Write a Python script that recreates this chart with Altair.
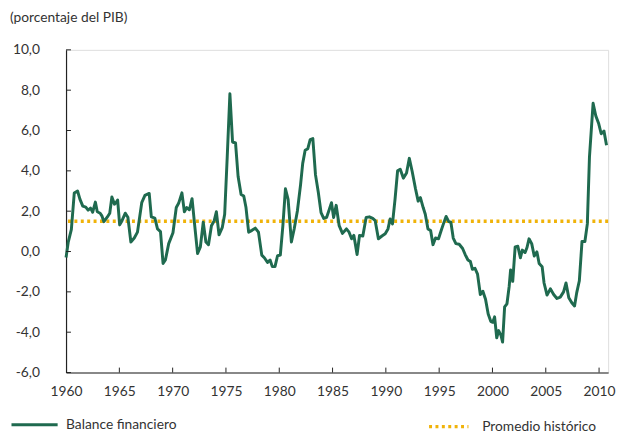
import altair as alt
import pandas as pd

# --- data ---
anios = [
    1960.0, 1960.2, 1960.5, 1960.77, 1961.08, 1961.3, 1961.57, 1961.85, 1962.07, 1962.3,
    1962.5, 1962.75, 1962.93, 1963.2, 1963.36, 1963.55, 1963.86, 1964.1, 1964.3, 1964.54,
    1964.72, 1964.84, 1965.03, 1965.25, 1965.56, 1965.8, 1966.08, 1966.4, 1966.7, 1967.1,
    1967.4, 1967.8, 1968.0, 1968.33, 1968.58, 1968.86, 1969.1, 1969.32, 1969.63, 1970.03,
    1970.34, 1970.56, 1970.87, 1971.1, 1971.32, 1971.57, 1971.82, 1972.04, 1972.34, 1972.6,
    1972.87, 1973.12, 1973.36, 1973.64, 1973.9, 1974.1, 1974.35, 1974.66, 1974.88, 1975.12,
    1975.37, 1975.62, 1975.9, 1976.14, 1976.42, 1976.67, 1976.88, 1977.13, 1977.44, 1977.75,
    1978.05, 1978.36, 1978.6, 1978.9, 1979.14, 1979.35, 1979.6, 1979.84, 1980.1, 1980.34,
    1980.58, 1980.83, 1981.14, 1981.4, 1981.7, 1982.0, 1982.2, 1982.43, 1982.68, 1982.9,
    1983.15, 1983.4, 1983.67, 1983.92, 1984.17, 1984.44, 1984.7, 1984.9, 1985.1, 1985.34,
    1985.62, 1985.93, 1986.3, 1986.55, 1986.79, 1987.0, 1987.3, 1987.53, 1987.84, 1988.15,
    1988.45, 1988.77, 1989.0, 1989.3, 1989.63, 1989.94, 1990.2, 1990.4, 1990.62, 1990.86,
    1991.1, 1991.35, 1991.64, 1991.94, 1992.2, 1992.47, 1992.78, 1993.03, 1993.24, 1993.5,
    1993.7, 1993.95, 1994.2, 1994.42, 1994.66, 1994.94, 1995.19, 1995.4, 1995.65, 1995.9,
    1996.1, 1996.32, 1996.57, 1996.88, 1997.2, 1997.44, 1997.7, 1997.93, 1998.12, 1998.36,
    1998.6, 1998.86, 1999.1, 1999.35, 1999.6, 1999.84, 2000.03, 2000.2, 2000.4, 2000.58,
    2000.8, 2000.95, 2001.14, 2001.36, 2001.57, 2001.7, 2001.9, 2002.13, 2002.38, 2002.62,
    2002.8, 2003.06, 2003.24, 2003.43, 2003.68, 2003.92, 2004.17, 2004.38, 2004.66, 2004.84,
    2005.12, 2005.43, 2005.74, 2006.05, 2006.36, 2006.67, 2006.9, 2007.16, 2007.44, 2007.7,
    2007.9, 2008.15, 2008.4, 2008.67, 2008.9, 2009.1, 2009.44, 2009.69, 2009.97, 2010.2,
    2010.46, 2010.7,
]
balance = [
    -0.3, 0.45, 1.1, 2.9, 3.0, 2.6, 2.25, 2.2, 2.05, 2.15,
    1.95, 2.45, 1.97, 1.9, 1.77, 1.48, 1.7, 1.9, 2.7, 2.35,
    2.45, 2.55, 1.32, 1.53, 1.9, 1.7, 0.47, 0.67, 0.96, 2.42,
    2.78, 2.88, 1.72, 1.66, 1.12, 0.99, -0.59, -0.42, 0.39, 0.93,
    2.18, 2.39, 2.91, 1.97, 2.18, 2.07, 2.62, 1.45, -0.1, 0.23,
    1.45, 0.47, 0.34, 1.28, 1.53, 1.97, 0.83, 1.2, 1.85, 4.7,
    7.82, 5.43, 5.38, 3.72, 2.83, 2.75, 2.18, 0.96, 1.05, 1.16,
    0.96, -0.18, -0.31, -0.54, -0.42, -0.75, -0.75, -0.21, -0.18, 1.28,
    3.11, 2.59, 0.47, 1.12, 2.01, 3.32, 4.37, 5.02, 5.1, 5.55,
    5.6, 3.8, 2.91, 1.93, 1.64, 1.69, 2.1, 2.42, 1.69, 2.29,
    1.28, 0.9, 1.12, 0.96, 0.63, 0.8, -0.15, 0.8, 0.77, 1.69,
    1.72, 1.64, 1.53, 0.63, 0.77, 0.88, 1.12, 1.61, 1.37, 2.59,
    4.0, 4.08, 3.64, 3.89, 4.62, 3.97, 3.11, 2.5, 2.67, 2.18,
    1.85, 1.12, 1.04, 0.34, 0.67, 0.63, 1.04, 1.37, 1.74, 1.48,
    1.45, 0.67, 0.39, 0.36, 0.15, -0.15, -0.42, -0.5, -0.88, -0.83,
    -1.12, -2.13, -1.97, -2.37, -3.1, -3.46, -3.51, -3.24, -4.28, -3.92,
    -4.16, -4.49, -2.75, -2.59, -1.72, -0.91, -1.48, 0.23, 0.26, -0.31,
    0.07, -0.05, 0.2, 0.63, 0.39, -0.22, -0.02, -0.59, -0.75, -1.56,
    -2.16, -1.85, -2.13, -2.33, -2.26, -2.0, -1.56, -2.29, -2.54, -2.7,
    -2.05, -1.45, 0.5, 0.5, 1.37, 4.7, 7.35, 6.73, 6.33, 5.84,
    5.97, 5.27,
]
promedio_historico = 1.5

serie_linea = "Balance financiero"
serie_promedio = "Promedio histórico"
titulo = "(porcentaje del PIB)"

x_ticks = [1960, 1965, 1970, 1975, 1980, 1985, 1990, 1995, 2000, 2005, 2010]
y_ticks = [-6, -4, -2, 0, 2, 4, 6, 8, 10]

VERDE = "#1f6a4f"
AMARILLO = "#f0b30a"
TEXTO = "#333333"
FUENTE = "Lato"

df = pd.DataFrame({"anio": anios, "valor": balance, "serie": serie_linea})
df_prom = pd.DataFrame({"valor": [promedio_historico], "serie": [serie_promedio]})
df_yt = pd.DataFrame({"v": y_ticks})
df_xt = pd.DataFrame({"a": x_ticks[1:]})

xscale = alt.Scale(domain=[1960, 2010.85], nice=False, zero=False)
yscale = alt.Scale(domain=[-6, 10], nice=False, zero=False)

label_expr_y = "replace((datum.value < 0 ? '-' : '') + format(abs(datum.value), '.1f'), '.', ',')"

linea = alt.Chart(df).mark_line(strokeWidth=3, strokeJoin="round").encode(
    x=alt.X("anio:Q", scale=xscale,
            axis=alt.Axis(title=None, values=x_ticks, format="d", ticks=False, grid=False,
                          domainColor="#222222", domainWidth=1.2, labelPadding=12,
                          labelFontSize=14, labelColor=TEXTO, labelFont=FUENTE,
                          labelFlush=False)),
    y=alt.Y("valor:Q", scale=yscale,
            axis=alt.Axis(title=None, values=y_ticks, labelExpr=label_expr_y, ticks=False,
                          grid=False, domainColor="#222222", domainWidth=1.2, labelPadding=27,
                          labelFontSize=14, labelColor=TEXTO, labelFont=FUENTE)),
    color=alt.Color("serie:N",
                    scale=alt.Scale(domain=[serie_linea], range=[VERDE]),
                    legend=alt.Legend(title=None, orient="none", legendX=-57, legendY=356,
                                      symbolType="stroke", symbolSize=2200,
                                      symbolStrokeWidth=3, labelOffset=7, padding=0,
                                      labelFontSize=14, labelColor=TEXTO, labelFont=FUENTE)),
)

promedio = alt.Chart(df_prom).mark_rule(strokeWidth=3.5, strokeDash=[3, 3.5]).encode(
    y=alt.Y("valor:Q", scale=yscale),
    color=alt.Color("serie:N",
                    scale=alt.Scale(domain=[serie_promedio], range=[AMARILLO]),
                    legend=alt.Legend(title=None, orient="none", legendX=367, legendY=361,
                                      symbolType="stroke", symbolSize=1600,
                                      symbolStrokeWidth=3.5, symbolDash=[3, 3.5],
                                      labelOffset=12, padding=0,
                                      labelFontSize=14, labelColor=TEXTO, labelFont=FUENTE)),
)

ticks_y = alt.Chart(df_yt).mark_rule(color="#222222", strokeWidth=1).encode(
    y=alt.Y("v:Q", scale=yscale), x=alt.value(0), x2=alt.value(5)
)
ticks_x = alt.Chart(df_xt).mark_rule(color="#222222", strokeWidth=1).encode(
    x=alt.X("a:Q", scale=xscale), y=alt.value(328), y2=alt.value(323)
)

chart = alt.layer(promedio, linea, ticks_y, ticks_x).resolve_scale(
    color="independent"
).resolve_legend(color="independent").properties(
    width=551,
    height=328,
    padding={"left": 2, "top": 0, "right": 0, "bottom": 0},
    title=alt.Title(titulo, anchor="start", frame="bounds", fontSize=14, fontWeight="normal",
                    color=TEXTO, font=FUENTE, offset=18),
).configure_view(stroke=None).configure(background="white")

chart.save("out.html", embed_options={"renderer": "svg", "actions": False})
